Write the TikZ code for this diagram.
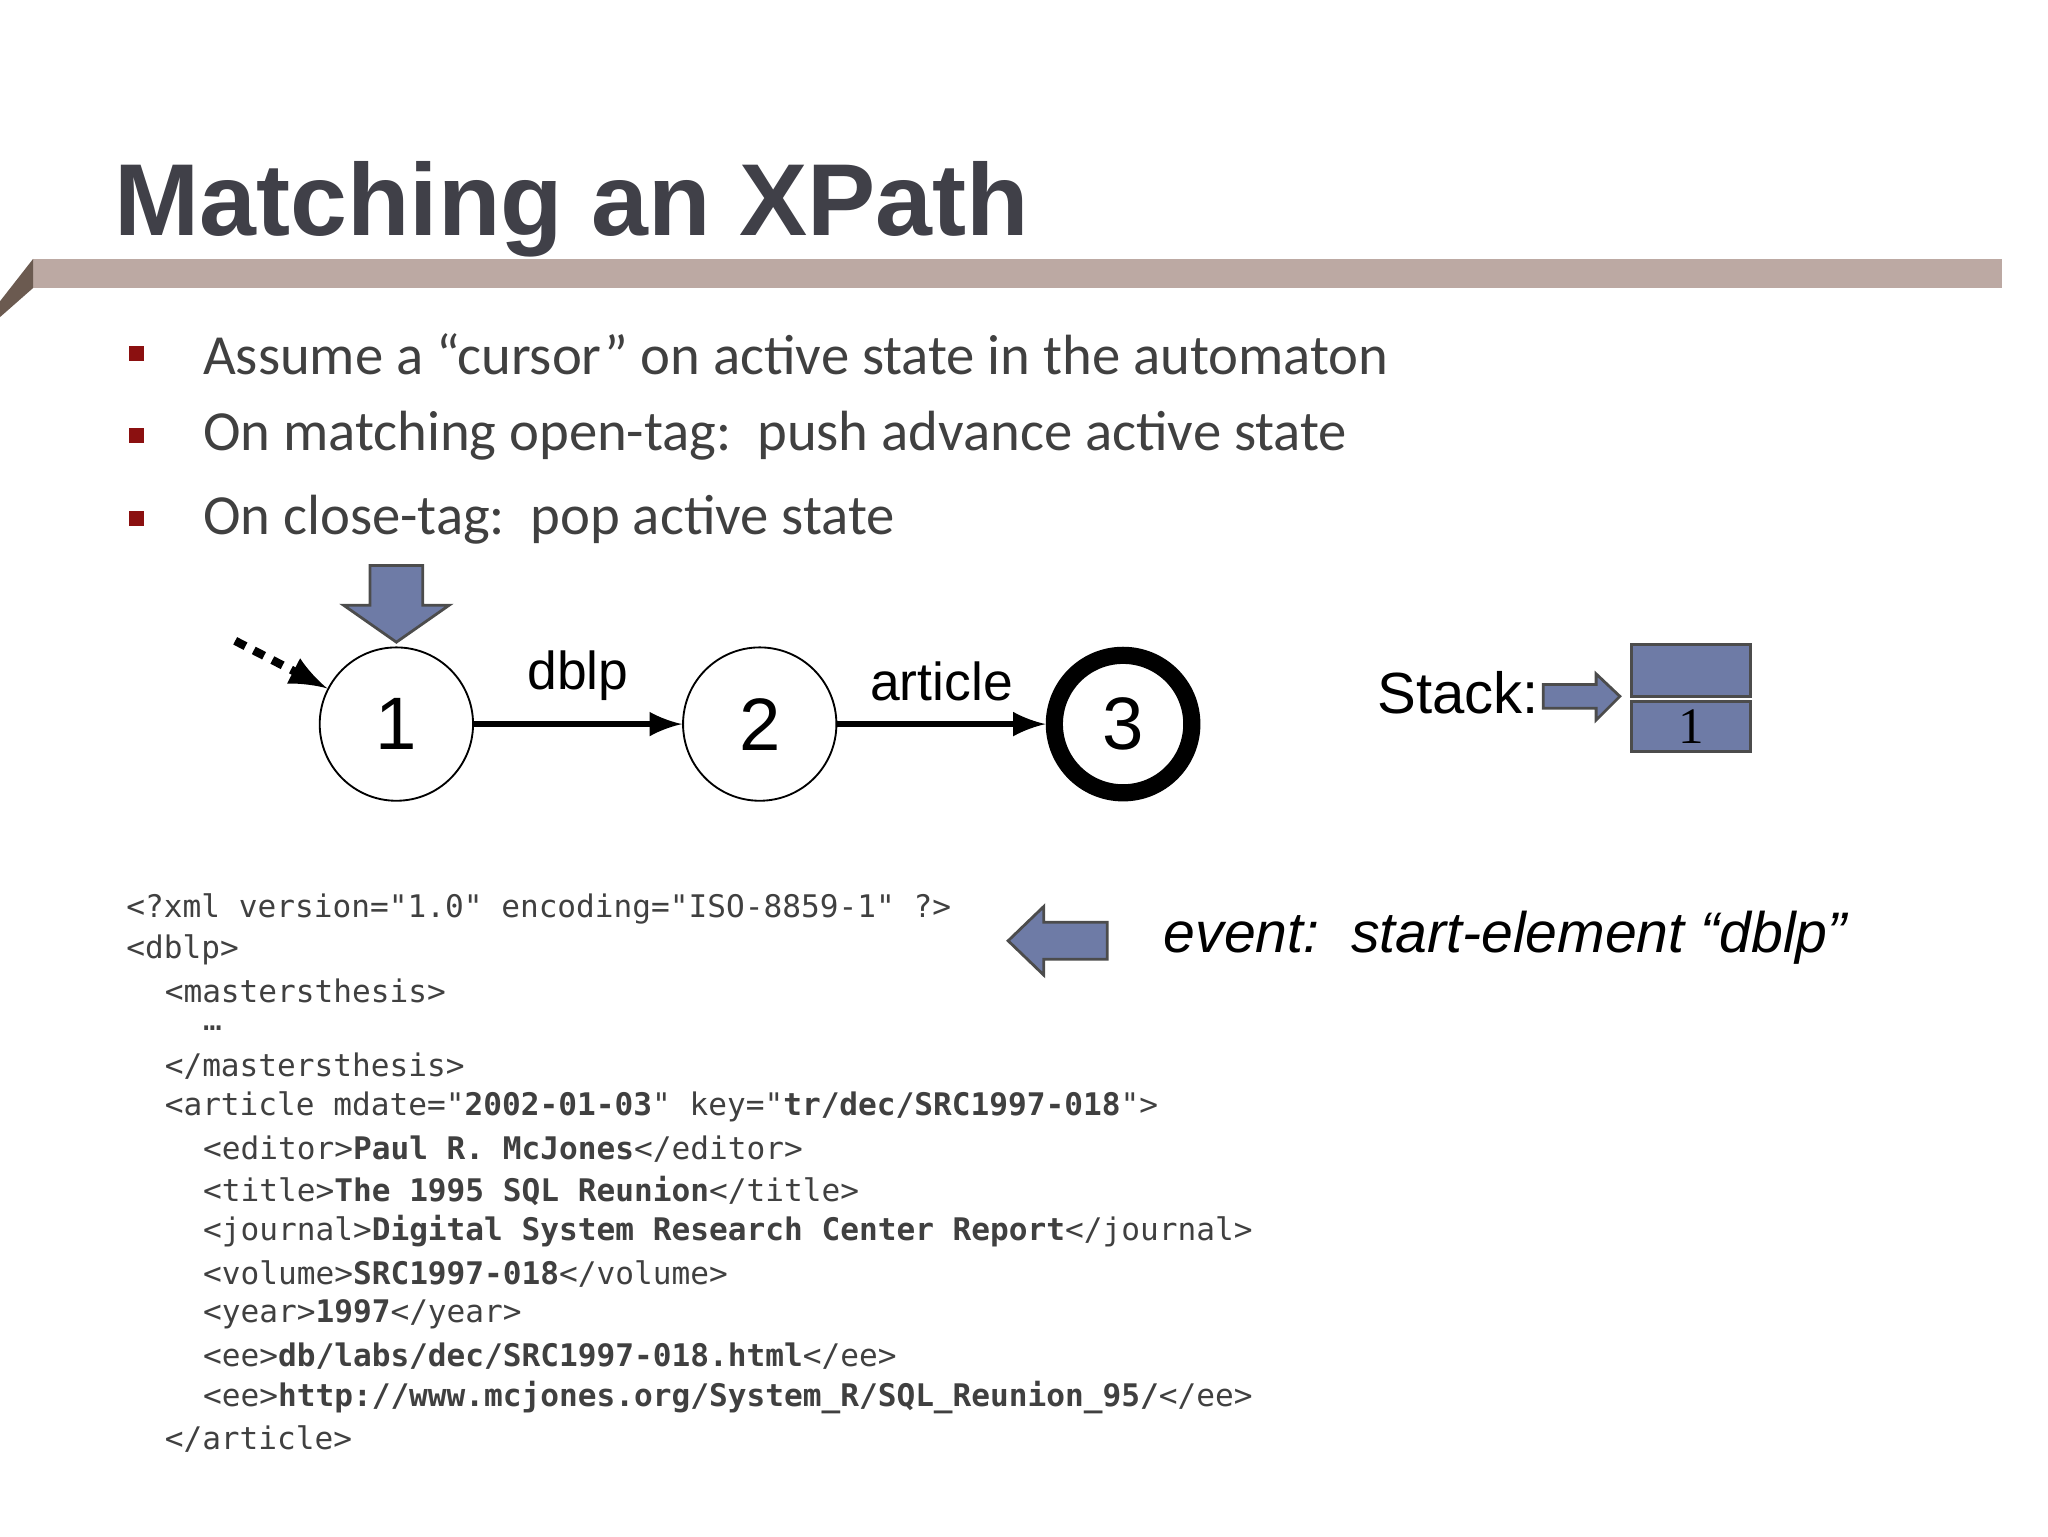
\documentclass[tikz,border=0pt]{standalone}
\usepackage{fontspec}
\setmainfont{Carlito}
\newfontfamily\arialf{Liberation Sans}
\newfontfamily\timesf{Liberation Serif}
\setmonofont{DejaVu Sans Mono}
\definecolor{titlec}{HTML}{404048}
\definecolor{barc}{HTML}{BCA9A3}
\definecolor{bard}{HTML}{6B5A50}
\definecolor{bulc}{HTML}{8B1010}
\definecolor{txtc}{HTML}{404040}
\definecolor{blk}{HTML}{6E7BA6}
\begin{document}
\begin{tikzpicture}[x=0.01cm,y=-0.01cm,
  state/.style={circle,draw,minimum size=1.16cm,inner sep=0pt,font=\arialf\fontsize{16}{16}\selectfont},
  lab/.style={font=\arialf\fontsize{11.5}{11.5}\selectfont},
  bul/.style={anchor=west,font=\fontsize{12.2}{12.2}\selectfont,text=txtc,inner sep=0pt},
  code/.style={anchor=west,font=\ttfamily\fontsize{6.7}{6.7}\selectfont,text=txtc,inner sep=0pt},
  blockarr/.style={fill=blk,draw=black!70,line width=0.6pt},
  tr/.style={-latex,line width=1.4pt}]
\useasboundingbox (0,0) rectangle (1550,1162.5);
% title
\node[anchor=base west,inner sep=0pt,font=\arialf\bfseries\fontsize{22}{22}\selectfont,text=titlec] (title) at (86,178) {Matching an XPath};
\fill[barc] (25,196) rectangle (1515,218);
\fill[bard] (0,228) -- (25,196) -- (25,218) -- (0,240) -- cycle;
% bullets
\foreach \y/\t [count=\i] in {268/{Assume a “cursor” on active state in the automaton},330/{On matching open-tag:\ \ push advance active state},393/{On close-tag:\ \ pop active state}}{
  \fill[bulc] (98,\y-6) rectangle (109,\y+5);
  \node[bul] (b\i) at (153,\y) {\t};
}
% automaton
\node[state] (s1) at (300,548) {1};
\node[state] (s2) at (575,548) {2};
\node[state,line width=0.13cm,minimum size=1.04cm] (s3) at (850,548) {3};
\coordinate (st) at (178,485);
\draw[-latex,line width=1.8pt,dash pattern=on 2.5pt off 2pt] (st) -- (s1);
\draw[tr] (s1) -- node[lab,above=1pt] (l1) {dblp} (s2);
\draw[tr] (s2) -- node[lab,above=1pt] (l2) {article} (s3);
% cursor arrow
\draw[blockarr] (280,428) -- (320,428) -- (320,458) -- (340,458) -- (300,486) -- (260,458) -- (280,458) -- cycle;
% stack
\node[anchor=west,inner sep=0pt,font=\arialf\fontsize{12.5}{12.5}\selectfont] (stk) at (1042,524) {Stack:};
\draw[blockarr] (1168,518) -- (1208,518) -- (1208,510) -- (1226,527) -- (1208,545) -- (1208,536) -- (1168,536) -- cycle;
\draw[blockarr] (1235,488) rectangle (1325,527);
\draw[blockarr] (1235,531) rectangle (1325,569);
\node[font=\timesf\fontsize{11}{11}\selectfont] (one) at (1280,550) {1};
% event arrow
\draw[blockarr] (838,698) -- (790,698) -- (790,686) -- (763,712) -- (790,738) -- (790,726) -- (838,726) -- cycle;
\node[anchor=west,inner sep=0pt,font=\arialf\itshape\fontsize{12.3}{12.3}\selectfont] (ev) at (880,710) {event:\ \ start-element “dblp”};
% code
\node[code] (c1) at (95,688) {<?xml version="1.0" encoding="ISO-8859-1" ?>};
\node[code] (c2) at (95,719) {<dblp>};
\node[code] (c3) at (124,750) {<mastersthesis>};
\node[code] (c4) at (153,778) {…};
\node[code] (c5) at (124,807) {</mastersthesis>};
\node[code] (c6) at (124,838) {<article mdate="\textbf{2002-01-03}" key="\textbf{tr/dec/SRC1997-018}">};
\node[code] (c7) at (153,870) {<editor>\textbf{Paul R. McJones}</editor>};
\node[code] (c8) at (153,901) {<title>\textbf{The 1995 SQL Reunion}</title>};
\node[code] (c9) at (153,932) {<journal>\textbf{Digital System Research Center Report}</journal>};
\node[code] (c10) at (153,964) {<volume>\textbf{SRC1997-018}</volume>};
\node[code] (c11) at (153,995) {<year>\textbf{1997}</year>};
\node[code] (c12) at (153,1026) {<ee>\textbf{db/labs/dec/SRC1997-018.html}</ee>};
\node[code] (c13) at (153,1058) {<ee>\textbf{http://www.mcjones.org/System\_R/SQL\_Reunion\_95/}</ee>};
\node[code] (c14) at (124,1089) {</article>};
\end{tikzpicture}
\end{document}
